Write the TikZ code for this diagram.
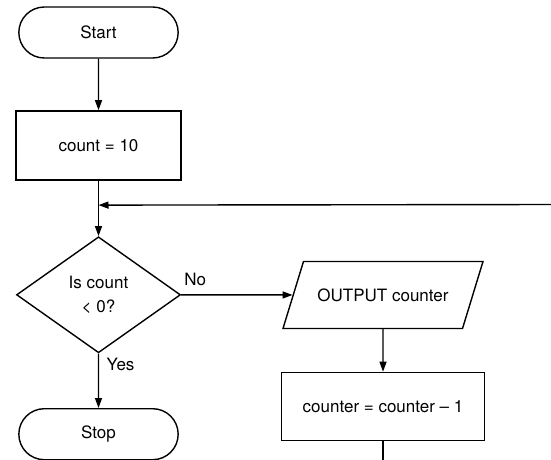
\documentclass[tikz,border=0pt]{standalone}
\usepackage{fontspec}
\setmainfont{TeX Gyre Heros}
\usetikzlibrary{arrows.meta,positioning,shapes.geometric,shapes.misc}

\begin{document}
\begin{tikzpicture}[
    font=\fontsize{17}{24}\selectfont,
    line width=1.4pt,
    term/.style={draw, rounded rectangle, minimum width=166pt, minimum height=51pt},
    box/.style={draw, align=center, minimum width=165pt, minimum height=69pt},
    decision/.style={draw, diamond, align=center, inner sep=1pt, minimum width=164pt, minimum height=116pt},
    io/.style={draw, trapezium, trapezium left angle=73, trapezium right angle=107, trapezium stretches body=true, text height=12pt, text depth=0pt, inner ysep=27.5pt, minimum width=200pt},
    arrow/.style={-{Triangle[length=10pt,width=7pt]}}
]
\useasboundingbox (0,0) rectangle (551pt,-459pt);

\node[term] (start) at (98.5pt,-32.5pt) {Start};
\node[box, below=51.5pt of start] (init) {count = 10};
\node[decision, below=55.5pt of init] (check) {Is count\\< 0?};
\node[term, below=54.5pt of check] (stop) {Stop};
\node[io] (out) at (383pt,-295pt) {OUTPUT counter};
\node[box, minimum width=203pt, minimum height=68pt, below=42.5pt of out] (dec) {counter = counter -- 1};

\coordinate[below=24.5pt of init] (merge);
\coordinate (loopin) at (551pt,-204.5pt);
\coordinate[below=19pt of dec] (tail);

\draw[arrow] (start) -- (init);
\draw[arrow] (init) -- (check);
\draw[arrow] (loopin) -- (merge);
\draw[arrow] (check) -- node[pos=0, anchor=south west, inner sep=1pt, xshift=1.5pt, yshift=7pt] {No} (out);
\draw[arrow] (check) -- node[pos=0, anchor=north west, inner sep=1pt, xshift=6.5pt, yshift=-3pt] {Yes} (stop);
\draw[arrow] (out) -- (dec);
\draw (dec) -- (tail);
\end{tikzpicture}
\end{document}
